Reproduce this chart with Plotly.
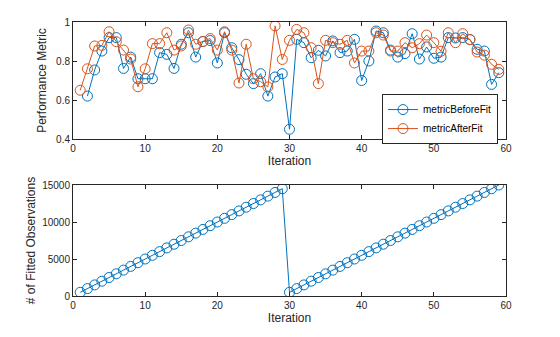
import plotly.graph_objects as go
from plotly.subplots import make_subplots

iter_after = list(range(1, 60))
iter_before = list(range(2, 60))

metric_before = [0.62, 0.754, 0.851, 0.92, 0.92, 0.762, 0.82, 0.709, 0.709,
                 0.709, 0.843, 0.834, 0.762, 0.886, 0.945, 0.82, 0.90, 0.905, 0.79,
                 0.945, 0.868, 0.807, 0.732, 0.684, 0.735, 0.62, 0.718, 0.735, 0.45,
                 0.911, 0.894, 0.817, 0.855, 0.826, 0.903, 0.843, 0.851, 0.911, 0.70,
                 0.80, 0.954, 0.945, 0.856, 0.82, 0.838, 0.94, 0.81, 0.872, 0.814,
                 0.82, 0.92, 0.918, 0.92, 0.91, 0.86, 0.851, 0.68, 0.74]

metric_after = [0.65, 0.76, 0.877, 0.88, 0.95, 0.899, 0.856, 0.81, 0.668, 0.76,
                0.889, 0.889, 0.945, 0.856, 0.877, 0.959, 0.886, 0.90, 0.915, 0.856,
                0.95, 0.856, 0.687, 0.886, 0.709, 0.694, 0.667, 0.98, 0.808, 0.906,
                0.962, 0.945, 0.868, 0.684, 0.906, 0.894, 0.886, 0.906, 0.79, 0.851,
                0.851, 0.945, 0.933, 0.851, 0.851, 0.894, 0.868, 0.889, 0.933, 0.894,
                0.85, 0.945, 0.894, 0.94, 0.91, 0.846, 0.83, 0.783, 0.757]

iter_obs = list(range(1, 60))
fitted_obs = [500 * i for i in range(1, 30)] + [500 * i for i in range(1, 31)]

BLUE = "#0072BD"
ORANGE = "#D95319"
AX = "#262626"
FONT = "Liberation Sans, Arial, sans-serif"

fig = make_subplots(rows=2, cols=1, vertical_spacing=0.168)

mk = dict(symbol="circle-open", size=10, line=dict(width=1))
fig.add_trace(go.Scatter(x=iter_before, y=metric_before, mode="lines+markers",
                         name="metricBeforeFit", line=dict(color=BLUE, width=1),
                         marker=dict(color=BLUE, **mk)), row=1, col=1)
fig.add_trace(go.Scatter(x=iter_after, y=metric_after, mode="lines+markers",
                         name="metricAfterFit", line=dict(color=ORANGE, width=1),
                         marker=dict(color=ORANGE, **mk)), row=1, col=1)
fig.add_trace(go.Scatter(x=iter_obs, y=fitted_obs, mode="lines+markers",
                         showlegend=False, line=dict(color=BLUE, width=1),
                         marker=dict(color=BLUE, **mk)), row=2, col=1)

axcommon = dict(showline=True, linecolor=AX, linewidth=1, mirror="allticks",
                ticks="inside", ticklen=4, tickcolor=AX, showgrid=False,
                zeroline=False, tickfont=dict(family=FONT, size=10, color=AX),
                title_font=dict(family=FONT, size=12, color=AX))

fig.update_xaxes(range=[0, 60], tickvals=[0, 10, 20, 30, 40, 50, 60],
                 title_text="Iteration", title_standoff=1, **axcommon)
fig.update_yaxes(row=1, col=1, range=[0.4, 1.0], tickvals=[0.4, 0.6, 0.8, 1.0],
                 ticktext=["0.4", "0.6", "0.8", "1"],
                 title_text="Performance Metric", title_standoff=6, **axcommon)
fig.update_yaxes(row=2, col=1, range=[0, 15000], tickvals=[0, 5000, 10000, 15000],
                 ticktext=["0", "5000", "10000", "15000"],
                 title_text="# of Fitted Observations", title_standoff=3, **axcommon)

fig.update_layout(
    width=560, height=337,
    margin=dict(l=73, r=54, t=22, b=41),
    paper_bgcolor="white", plot_bgcolor="white",
    font=dict(family=FONT, size=10, color=AX),
    legend=dict(x=0.9815, y=0.737, xanchor="right", yanchor="top",
                bgcolor="white", bordercolor=AX, borderwidth=1,
                font=dict(family=FONT, size=10, color="black"),
                tracegroupgap=0, itemwidth=30),
)
fig.update_yaxes(row=1, col=1, domain=[0.573, 1.0])
fig.update_yaxes(row=2, col=1, domain=[0.0, 0.405])

fig.write_html("out.html")
